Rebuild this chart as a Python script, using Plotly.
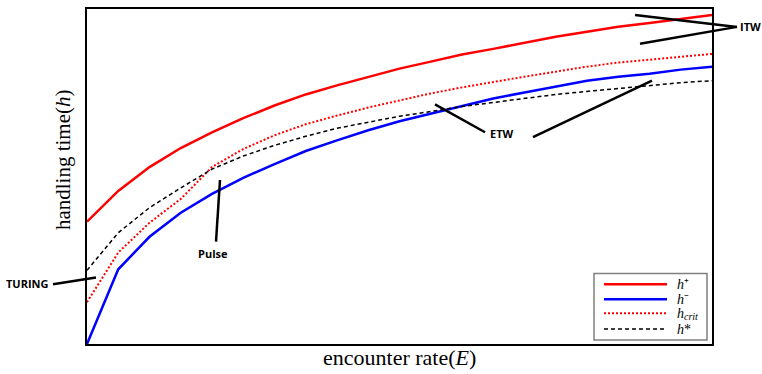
import plotly.graph_objects as go

# encounter rate sample points (arbitrary units)
E = list(range(21))

h_plus = [0.365, 0.457, 0.528, 0.585, 0.632, 0.674, 0.712, 0.745, 0.772, 0.798, 0.822,
          0.843, 0.864, 0.881, 0.899, 0.917, 0.932, 0.947, 0.958, 0.970, 0.982]
h_minus = [0.0, 0.223, 0.320, 0.392, 0.448, 0.496, 0.537, 0.576, 0.608, 0.638, 0.665,
           0.688, 0.712, 0.733, 0.751, 0.769, 0.786, 0.798, 0.807, 0.819, 0.828]
h_crit = [0.125, 0.273, 0.362, 0.433, 0.528, 0.582, 0.623, 0.656, 0.682, 0.706, 0.727,
          0.748, 0.766, 0.783, 0.798, 0.813, 0.828, 0.840, 0.849, 0.858, 0.866]
h_star = [0.220, 0.332, 0.407, 0.466, 0.522, 0.561, 0.593, 0.620, 0.644, 0.662, 0.680,
          0.694, 0.709, 0.721, 0.733, 0.745, 0.754, 0.763, 0.772, 0.780, 0.786]

# legend labels: (main text, subscript)
series_names = [("<i>h</i>⁺", ""), ("<i>h</i>⁻", ""), ("<i>h</i>", "crit"), ("<i>h</i>*", "")]
series_styles = [dict(color="#ff0000", width=2.5),
                 dict(color="#0000ff", width=2.5),
                 dict(color="#ff0000", width=2, dash="2px,2px"),
                 dict(color="#000000", width=1.5, dash="4px,3px")]

W, H = 762, 374
ML, MR, MT, MB = 87, 50, 7, 30
PW, PH = W - ML - MR, H - MT - MB


def px(x):
    return (x - ML) / PW


def py(y):
    return (H - MB - y) / PH


fig = go.Figure()
for ys, (name, sub), st in zip([h_plus, h_minus, h_crit, h_star], series_names, series_styles):
    fig.add_trace(go.Scatter(x=E, y=ys, mode="lines", name=name + sub, line=st,
                             showlegend=False))

# pointer lines (pixel positions of the callouts)
pointers = [((53, 284), (96, 277)), ((216, 241), (220, 179)),
            ((485, 131), (435, 103)), ((533, 136), (652, 79)),
            ((737, 25), (635, 13)), ((737, 25), (640, 42))]
shapes = []
for (x0, y0), (x1, y1) in pointers:
    shapes.append(dict(type="line", xref="paper", yref="paper",
                       x0=px(x0), y0=py(y0), x1=px(x1), y1=py(y1),
                       line=dict(color="black", width=2.5)))

label_font = dict(family="Open Sans", size=11, color="black", weight=700)
labels = [("TURING", 27, 283), ("Pulse", 213, 253), ("ETW", 502, 132), ("ITW", 750, 25)]
annotations = []
for t, x, y in labels:
    annotations.append(dict(text=t, x=px(x), y=py(y), xref="paper", yref="paper",
                            showarrow=False, font=label_font, xanchor="center", yanchor="middle"))

serif = "Liberation Serif"
annotations.append(dict(text="encounter rate(<i>E</i>)", x=px(399), y=py(358), xref="paper",
                        yref="paper", showarrow=False, xanchor="center", yanchor="middle",
                        font=dict(family=serif, size=22, color="black")))
annotations.append(dict(text="handling time(<i>h</i>)", x=px(63), y=py(159), xref="paper",
                        yref="paper", showarrow=False, xanchor="center", yanchor="middle",
                        textangle=-90, font=dict(family=serif, size=21, color="black")))

# legend box drawn in pixel layout
shapes.append(dict(type="rect", xref="paper", yref="paper", x0=px(594), x1=px(707),
                   y0=py(340), y1=py(273), line=dict(color="#808080", width=1.5),
                   fillcolor="white", layer="above"))
for i, ((name, sub), st) in enumerate(zip(series_names, series_styles)):
    yy = [284, 299, 313, 329][i]
    shapes.append(dict(type="line", xref="paper", yref="paper", x0=px(604), x1=px(667),
                       y0=py(yy), y1=py(yy), line=st, layer="above"))
    annotations.append(dict(text=name, x=px(675), y=py(yy), xref="paper", yref="paper",
                            showarrow=False, xanchor="left", yanchor="middle",
                            font=dict(family=serif, size=14, color="black")))
    if sub:
        annotations.append(dict(text="<i>" + sub + "</i>", x=px(682), y=py(yy + 3),
                                xref="paper", yref="paper", showarrow=False,
                                xanchor="left", yanchor="middle",
                                font=dict(family=serif, size=10, color="black")))

axis = dict(showline=True, mirror=True, linecolor="black", linewidth=2, showgrid=False,
            zeroline=False, showticklabels=False, ticks="")
fig.update_layout(
    width=W, height=H, margin=dict(l=ML, r=MR, t=MT, b=MB),
    paper_bgcolor="white", plot_bgcolor="white",
    xaxis=dict(range=[0, 20], **axis),
    yaxis=dict(range=[0, 1], **axis),
    shapes=shapes, annotations=annotations,
    showlegend=False,
)
fig.write_html("out.html")
